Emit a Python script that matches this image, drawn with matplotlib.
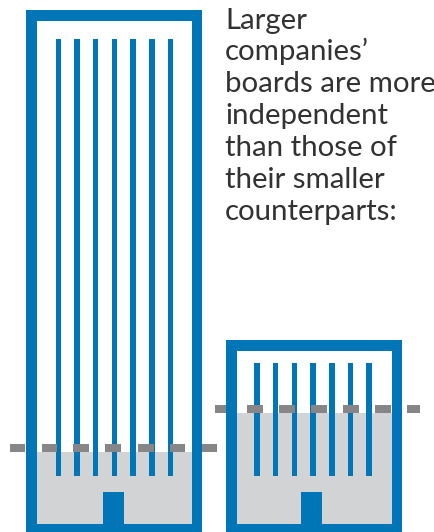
import matplotlib
matplotlib.use("Agg")
from matplotlib import pyplot as plt
from matplotlib.patches import Rectangle

BLUE = "#0076b6"
GRAY = "#d1d3d4"
DASH = "#868688"
W, H = 435, 532

# one entry per building, everything in picture pixels
outer_left = [26.5, 226.5]
outer_right = [202.5, 402.5]
outer_top = [10, 340]
fill_top = [452, 413]
window_top = [38.5, 362.5]
window_bottom = [476, 476]
door_left = [103, 301]
door_right = [124, 322]
window_centers = [
    [58.5, 77, 95.7, 114.5, 133, 152, 170.5],
    [257, 275.7, 294.5, 313, 332, 350.5, 369],
]
dash_starts = [
    [9.7, 41.7, 73.5, 105.5, 138, 170, 202.5],
    [215, 247, 279, 311, 343, 375, 407],
]
dash_ends = [
    [25.5, 57.5, 89.5, 121.5, 154, 185.5, 217],
    [226.5, 263, 295, 327, 359, 391, 420],
]
text_lines = ["Larger", "companies\u2019", "boards are more", "independent",
              "than those of", "their smaller", "counterparts:"]
text_baselines = [28.5, 60, 92, 124, 156, 188, 220]

wall = 10.5
wall_bottom = 8
window_w = 5.5
dash_h = 7.8
door_top = 492

fig = plt.figure(figsize=(W / 100, H / 100), dpi=100)
ax = fig.add_axes([0, 0, 1, 1])
ax.set_xlim(0, W)
ax.set_ylim(H, 0)
ax.axis("off")

for i in range(2):
    l, r, t = outer_left[i], outer_right[i], outer_top[i]
    b = H - wall_bottom
    # walls
    ax.add_patch(Rectangle((l, t), r - l, H - t, fc=BLUE, ec="none"))
    ax.add_patch(Rectangle((l + wall, t + wall), r - l - 2 * wall, b - t - wall, fc="white", ec="none"))
    # fill level
    ax.add_patch(Rectangle((l + wall, fill_top[i]), r - l - 2 * wall, b - fill_top[i], fc=GRAY, ec="none"))
    # windows
    for c in window_centers[i]:
        ax.add_patch(Rectangle((c - window_w / 2, window_top[i]), window_w,
                               window_bottom[i] - window_top[i], fc=BLUE, ec="none"))
    # door
    ax.add_patch(Rectangle((door_left[i], door_top), door_right[i] - door_left[i], b - door_top, fc=BLUE, ec="none"))
    # dashed average line
    for s, e in zip(dash_starts[i], dash_ends[i]):
        ax.add_patch(Rectangle((s, fill_top[i] - dash_h), e - s, dash_h, fc=DASH, ec="none", zorder=3))

for line, y in zip(text_lines, text_baselines):
    ax.text(225, y, line, family="Lato", fontsize=21.2, color="#333132", va="baseline", ha="left")

fig.savefig("out.png", dpi=100)
